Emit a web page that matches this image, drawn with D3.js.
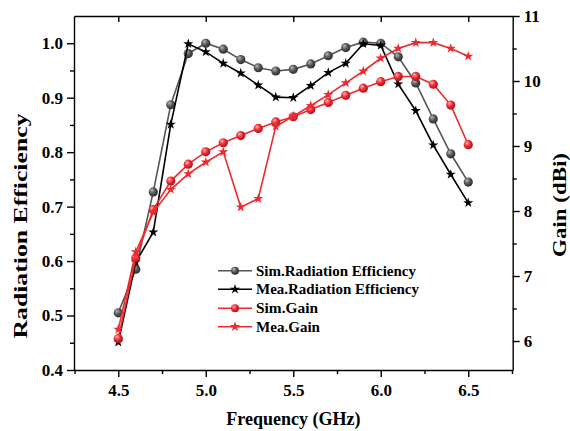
<!DOCTYPE html>
<html>
<head>
<meta charset="utf-8">
<script src="https://cdn.jsdelivr.net/npm/d3@7"></script>
<style>
  body { margin: 0; background: #fff; }
  text { font-family: 'Liberation Serif', 'Times New Roman', serif; font-weight: bold; }
</style>
</head>
<body>
<div id="chart"></div>
<script>
const freq = [4.5, 4.6, 4.7, 4.8, 4.9, 5.0, 5.1, 5.2, 5.3, 5.4, 5.5,
  5.6, 5.7, 5.8, 5.9, 6.0, 6.1, 6.2, 6.3, 6.4, 6.5]

const simEff = [0.505, 0.585, 0.727, 0.887, 0.981, 1.0, 0.989, 0.970, 0.955, 0.949, 0.952,
  0.962, 0.977, 0.992, 1.002, 1.0, 0.975, 0.927, 0.861, 0.797, 0.745]
const meaEff = [0.451, 0.598, 0.653, 0.851, 0.999, 0.984, 0.963, 0.945, 0.923, 0.901, 0.900,
  0.922, 0.946, 0.963, 0.999, 0.996, 0.925, 0.876, 0.813, 0.759, 0.707]
const simGain = [6.04, 7.28, 8.02, 8.46, 8.72, 8.91, 9.05, 9.16, 9.27, 9.37, 9.45,
  9.56, 9.67, 9.78, 9.89, 9.99, 10.07, 10.07, 9.95, 9.63, 9.02]
const meaGain = [6.18, 7.37, 7.98, 8.33, 8.57, 8.75, 8.91, 8.06, 8.19, 9.30, 9.46,
  9.62, 9.79, 9.97, 10.15, 10.35, 10.50, 10.59, 10.59, 10.50, 10.38]

const xTicks = [4.5, 5.0, 5.5, 6.0, 6.5]
const effTicks = [0.4, 0.5, 0.6, 0.7, 0.8, 0.9, 1.0]
const gainTicks = [6, 7, 8, 9, 10, 11]

const width = 570
const height = 431
const margin = { top: 16, right: 57.3, bottom: 61, left: 74 }

const svg = d3.select('#chart')
  .append('svg')
  .attr('width', width)
  .attr('height', height)

const defs = svg.append('defs')
function sphere(id, hi, mid, lo) {
  const g = defs.append('radialGradient')
    .attr('id', id)
    .attr('cx', '40%').attr('cy', '40%').attr('r', '60%')
    .attr('fx', '35%').attr('fy', '30%')
  g.append('stop').attr('offset', '0%').attr('stop-color', hi)
  g.append('stop').attr('offset', '55%').attr('stop-color', mid)
  g.append('stop').attr('offset', '100%').attr('stop-color', lo)
}
sphere('graySphere', '#b8b8b8', '#555555', '#2e2e2e')
sphere('redSphere', '#ffb0b0', '#ec2a30', '#b01218')

const x = d3.scaleLinear()
  .domain([4.247, 6.754])
  .range([margin.left, width - margin.right])

const yEff = d3.scaleLinear()
  .domain([0.4, 1.05])
  .range([height - margin.bottom, margin.top])

const yGain = d3.scaleLinear()
  .domain([5.554, 11])
  .range([height - margin.bottom, margin.top])

const plotBottom = height - margin.bottom
const plotRight = width - margin.right

// axes
const xAxis = d3.axisBottom(x)
  .tickValues(xTicks)
  .tickFormat(d3.format('.1f'))
  .tickSize(7)
  .tickSizeOuter(0)
  .tickPadding(7)

svg.append('g')
  .attr('class', 'x-axis')
  .attr('transform', 'translate(0,' + plotBottom + ')')
  .call(xAxis)

svg.append('g')
  .attr('transform', 'translate(0,' + plotBottom + ')')
  .call(d3.axisBottom(x).tickValues([4.25, 4.75, 5.25, 5.75, 6.25, 6.75]).tickSize(4).tickFormat(''))
  .select('.domain').remove()

// top frame with inward ticks
svg.append('g')
  .attr('transform', 'translate(0,' + margin.top + ')')
  .call(d3.axisTop(x).tickValues(xTicks).tickSize(-6).tickSizeOuter(0).tickFormat(''))

svg.append('g')
  .attr('class', 'y-axis')
  .attr('transform', 'translate(' + margin.left + ',0)')
  .call(d3.axisLeft(yEff).tickValues(effTicks).tickFormat(d3.format('.1f')).tickSize(7).tickSizeOuter(0).tickPadding(4))

svg.append('g')
  .attr('transform', 'translate(' + margin.left + ',0)')
  .call(d3.axisLeft(yEff).tickValues([0.45, 0.55, 0.65, 0.75, 0.85, 0.95]).tickSize(4).tickFormat(''))
  .select('.domain').remove()

svg.append('g')
  .attr('class', 'y2-axis')
  .attr('transform', 'translate(' + plotRight + ',0)')
  .call(d3.axisRight(yGain).tickValues(gainTicks).tickFormat(d3.format('d')).tickSize(7).tickSizeOuter(0).tickPadding(4))

svg.append('g')
  .attr('transform', 'translate(' + plotRight + ',0)')
  .call(d3.axisRight(yGain).tickValues([6.5, 7.5, 8.5, 9.5, 10.5]).tickSize(4).tickFormat(''))
  .select('.domain').remove()

svg.selectAll('.domain, .tick line').attr('stroke', '#000').attr('stroke-width', 1.4)
svg.selectAll('.tick text')
  .attr('font-family', "'Liberation Serif', serif")
  .attr('font-weight', 'bold')
  .attr('font-size', 17)
  .attr('fill', '#000')

// axis titles
svg.append('text')
  .attr('x', (margin.left + plotRight) / 2)
  .attr('y', 425)
  .attr('text-anchor', 'middle')
  .attr('font-size', 18)
  .text('Frequency (GHz)')

svg.append('text')
  .attr('transform', 'translate(27,226) rotate(-90)')
  .attr('text-anchor', 'middle')
  .attr('font-size', 18)
  .attr('textLength', 225)
  .attr('lengthAdjust', 'spacingAndGlyphs')
  .text('Radiation Efficiency')

svg.append('text')
  .attr('transform', 'translate(566,205) rotate(-90)')
  .attr('text-anchor', 'middle')
  .attr('font-size', 18)
  .attr('textLength', 104)
  .attr('lengthAdjust', 'spacingAndGlyphs')
  .text('Gain (dBi)')

// series
const series = [
  { name: 'Sim.Radiation Efficiency', values: simEff, scale: yEff, color: '#555555', marker: 'circle', fill: 'url(#graySphere)', len: 160 },
  { name: 'Mea.Radiation Efficiency', values: meaEff, scale: yEff, color: '#000000', marker: 'star', fill: '#000000', len: 163 },
  { name: 'Sim.Gain', values: simGain, scale: yGain, color: '#ec2a30', marker: 'circle', fill: 'url(#redSphere)', len: 62 },
  { name: 'Mea.Gain', values: meaGain, scale: yGain, color: '#ec2a30', marker: 'star', fill: '#ec2a30', len: 64 }
]

const star = d3.symbol().type(d3.symbolStar).size(32)

series.forEach(s => {
  const pts = freq.map((f, i) => [f, s.values[i]])
  const line = d3.line()
    .x(d => x(d[0]))
    .y(d => s.scale(d[1]))

  svg.append('path')
    .datum(pts)
    .attr('d', line)
    .attr('fill', 'none')
    .attr('stroke', s.color)
    .attr('stroke-width', 1.6)

  if (s.marker === 'circle') {
    svg.append('g')
      .selectAll('circle')
      .data(pts)
      .enter()
      .append('circle')
      .attr('cx', d => x(d[0]))
      .attr('cy', d => s.scale(d[1]))
      .attr('r', 4.6)
      .attr('fill', s.fill)
  } else {
    svg.append('g')
      .selectAll('path')
      .data(pts)
      .enter()
      .append('path')
      .attr('d', star)
      .attr('transform', d => 'translate(' + x(d[0]) + ',' + s.scale(d[1]) + ')')
      .attr('fill', s.fill)
  }
})

// legend
const legendRows = [270.7, 289.3, 308.3, 326.7]
const legend = svg.append('g')
series.forEach((s, i) => {
  const y = legendRows[i]
  legend.append('line')
    .attr('x1', 218).attr('x2', 252)
    .attr('y1', y).attr('y2', y)
    .attr('stroke', s.color)
    .attr('stroke-width', 1.6)
  if (s.marker === 'circle') {
    legend.append('circle')
      .attr('cx', 235).attr('cy', y).attr('r', 4)
      .attr('fill', s.fill)
  } else {
    legend.append('path')
      .attr('d', star)
      .attr('transform', 'translate(235,' + y + ')')
      .attr('fill', s.fill)
  }
  legend.append('text')
    .attr('x', 256)
    .attr('y', y + 5)
    .attr('font-size', 14)
    .attr('textLength', s.len)
    .attr('lengthAdjust', 'spacingAndGlyphs')
    .text(s.name)
})
</script>
</body>
</html>
